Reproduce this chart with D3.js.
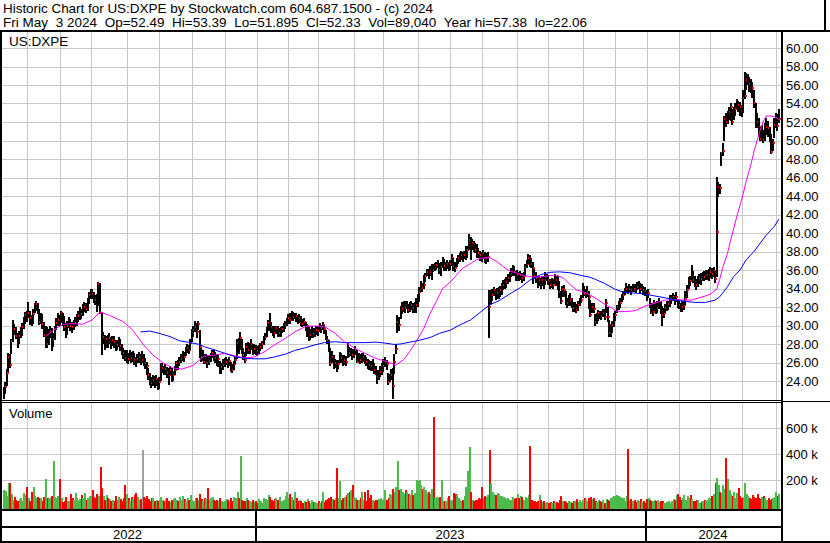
<!DOCTYPE html>
<html><head><meta charset="utf-8">
<script src="https://cdn.jsdelivr.net/npm/d3@7"></script>
<style>body{margin:0;background:#fff}svg{display:block}text{font-family:"Liberation Sans",Arial,sans-serif;fill:#000}</style>
</head><body><svg id="c" width="830" height="543"></svg>
<script>
const header1="Historic Chart for US:DXPE by Stockwatch.com 604.687.1500 - (c) 2024";
const header2="Fri May  3 2024  Op=52.49  Hi=53.39  Lo=51.895  Cl=52.33  Vol=89,040  Year hi=57.38  lo=22.06";
const symbol="US:DXPE";
const closes=[
22.95,23.4,24.9,26.6,25.7,28.3,29.7,29.6,28.9,28.4,
28.9,29.2,29.8,30.4,31.1,31.0,31.4,30.8,30.4,31.2,
32.1,32.3,31.7,30.4,30.9,30.2,29.0,29.3,28.0,28.9,
29.3,27.9,28.5,29.6,30.3,30.6,30.5,31.3,30.6,29.8,
29.3,29.9,30.4,30.0,29.8,30.05,30.3,30.6,31.0,31.5,
31.2,31.8,32.0,31.8,32.4,33.3,33.65,33.4,33.0,32.75,
32.2,34.5,31.3,28.4,28.8,27.9,28.5,28.25,28.6,28.1,
28.4,28.2,27.7,27.9,28.4,27.8,27.35,27.0,26.5,26.7,
26.4,26.8,26.5,26.8,26.3,26.1,26.4,26.6,26.3,26.3,
26.2,25.9,25.6,24.65,24.3,23.75,24.1,23.9,24.2,23.6,
23.9,25.2,25.4,25.0,25.3,24.9,24.65,25.2,24.3,24.65,
25.2,25.9,25.7,26.1,26.4,26.8,26.6,27.3,27.6,27.4,
28.1,29.2,29.5,29.8,29.3,30.2,27.7,26.6,26.8,26.1,
26.4,25.95,26.2,26.6,27.0,26.8,26.5,26.3,26.4,25.2,
25.5,25.7,26.0,26.1,25.9,26.2,25.5,25.2,25.8,26.3,
28.1,27.6,28.6,27.2,26.8,26.3,27.7,27.4,27.6,28.0,
27.2,27.5,27.4,27.2,27.4,27.7,28.0,28.6,28.8,29.5,
30.3,30.05,29.8,29.4,29.15,29.7,29.0,29.2,29.3,29.6,
29.9,30.1,30.4,30.8,30.6,31.1,30.9,31.1,31.0,30.6,
30.8,30.5,30.2,30.4,29.7,29.9,28.6,29.0,29.3,29.1,
29.3,29.5,29.4,29.9,29.7,30.05,29.6,28.8,28.4,27.35,
25.9,26.6,25.7,25.9,25.4,25.8,26.6,26.5,26.2,26.3,
26.1,27.5,27.0,27.2,26.8,27.0,27.35,26.1,26.6,26.3,
26.5,26.6,26.3,26.1,25.95,25.7,25.6,25.8,25.2,25.0,
24.45,24.6,25.0,25.3,25.6,26.1,25.8,23.9,24.4,24.7,
23.5,26.1,27.5,30.4,30.05,31.3,31.8,32.0,31.9,32.2,
31.7,32.0,32.2,31.9,32.0,32.2,32.6,33.65,34.2,34.1,
34.4,35.3,35.8,35.5,35.8,36.4,36.0,36.35,36.5,36.7,
36.0,36.3,37.1,36.4,36.5,36.6,36.4,36.6,37.25,36.4,
36.2,36.9,37.25,37.4,37.6,37.25,37.6,38.0,38.2,39.2,
38.3,38.9,38.7,38.2,38.1,37.8,37.6,37.4,37.8,37.25,
37.3,37.4,32.0,33.1,33.3,33.8,33.4,33.5,33.6,33.8,
34.0,34.4,34.55,34.7,35.1,35.3,35.6,36.0,35.8,35.3,
35.45,35.2,35.45,35.1,35.3,36.35,36.7,37.25,36.9,36.7,
36.2,35.3,35.1,34.55,34.9,34.4,34.9,34.6,34.9,35.3,
34.9,34.4,34.6,34.4,35.1,34.9,34.55,33.65,32.6,33.9,
33.8,32.6,32.4,32.7,32.8,32.4,31.85,32.0,31.7,32.2,
32.6,32.8,34.2,33.4,33.5,33.65,33.1,31.1,32.0,31.8,
30.4,30.8,31.3,31.1,31.0,31.3,30.95,32.4,30.95,29.15,
29.5,30.05,30.8,31.1,32.0,32.2,32.4,33.1,33.3,33.8,
34.0,33.8,34.0,33.8,34.1,34.0,33.9,34.2,34.4,34.0,
34.2,33.8,33.7,33.3,33.5,32.2,31.3,31.5,32.4,31.6,
31.9,32.5,31.6,31.1,31.3,31.85,32.2,32.3,32.75,32.9,
33.1,32.75,33.1,32.4,32.2,31.85,32.0,32.2,32.9,33.8,
34.9,34.8,35.8,34.9,34.7,34.4,34.7,35.1,35.0,35.3,
35.2,35.4,35.45,35.5,35.8,35.6,35.9,35.0,40.1,45.0,
44.9,48.6,48.9,52.3,52.0,52.6,53.1,53.65,52.0,53.1,
53.4,54.0,53.8,53.65,53.1,54.55,54.8,56.5,56.7,56.1,
55.9,55.7,54.0,52.6,52.0,51.5,50.2,50.8,50.05,50.95,
51.5,51.3,50.05,48.8,49.7,51.7,52.2,51.6,52.33];
const highs=[
23.3,23.9,25.3,27.0,26.9,28.5,30.6,30.2,29.8,29.2,
29.4,29.8,30.3,30.9,31.5,31.6,32.5,31.6,31.1,31.8,
32.4,32.6,32.4,31.8,31.4,31.2,30.4,29.9,29.8,29.6,
29.9,29.7,29.2,30.0,30.8,31.4,31.1,31.6,31.4,31.0,
30.3,30.5,30.9,30.7,30.4,30.6,30.9,31.2,31.6,32.0,
31.8,32.3,32.5,32.4,33.0,33.6,33.9,33.9,33.6,33.3,
33.4,34.7,34.6,31.3,29.3,29.0,28.9,29.0,29.2,28.8,
28.9,28.9,28.4,28.4,28.8,28.5,28.0,27.6,27.4,27.3,
27.0,27.3,27.1,27.2,27.0,26.6,26.9,27.1,26.9,27.2,
26.9,26.5,26.1,25.4,24.9,24.4,24.6,24.5,24.6,24.3,
24.4,25.9,25.9,25.6,25.8,25.5,25.4,25.6,25.4,25.1,
25.6,26.2,26.3,26.6,26.9,27.2,27.1,27.7,28.0,27.9,
28.5,29.6,29.9,30.5,30.3,30.5,29.5,27.6,27.3,26.9,
26.9,26.8,26.8,27.0,27.4,27.3,27.1,26.9,26.8,26.2,
26.0,26.4,26.5,26.6,26.4,26.6,26.1,25.8,26.2,26.6,
28.5,28.7,29.3,28.5,27.6,27.1,28.1,28.2,28.1,28.5,
28.0,28.0,27.9,27.8,27.9,28.1,28.3,28.9,29.2,29.8,
30.6,31.4,30.4,30.0,29.9,30.0,29.9,29.7,29.8,30.0,
30.3,30.5,30.8,31.2,31.3,31.6,31.5,31.4,31.4,31.1,
31.2,31.0,30.7,30.8,30.4,30.2,29.9,29.6,29.9,29.7,
29.7,29.9,29.9,30.3,30.1,30.4,30.1,29.5,28.9,28.4,
27.6,27.2,26.8,26.4,26.3,26.3,27.1,27.0,26.8,26.8,
26.7,28.1,27.7,27.6,27.5,27.5,27.8,27.4,27.0,26.9,
27.0,27.0,26.8,26.6,26.4,26.3,26.2,26.4,25.9,25.6,
25.2,25.2,25.6,26.0,26.4,26.6,26.3,24.9,24.8,25.3,
25.4,26.9,28.0,31.1,30.9,32.1,32.5,32.6,32.6,32.7,
32.3,32.5,32.6,32.4,32.5,33.0,33.4,34.2,34.8,34.6,
35.5,35.7,36.1,36.1,36.4,36.6,36.6,36.8,36.9,37.1,
36.8,36.9,37.4,37.2,36.9,37.1,36.9,37.1,37.7,37.3,
36.9,37.3,37.6,37.8,38.1,37.9,38.1,38.6,38.6,39.9,
39.6,39.3,39.1,38.9,38.8,38.4,38.1,38.0,38.2,37.9,
37.8,37.9,33.8,33.8,33.9,34.2,34.0,34.1,34.2,34.3,
34.6,34.9,35.0,35.2,35.6,35.8,36.2,36.5,36.4,35.9,
36.0,35.8,35.9,35.7,35.8,36.7,37.1,37.7,37.6,37.3,
36.9,36.1,35.8,35.3,35.4,35.1,35.4,35.3,35.8,35.6,
35.5,35.0,35.1,35.0,35.6,35.4,35.4,34.8,33.7,34.3,
34.4,33.7,33.0,33.3,33.5,33.0,32.5,32.5,32.3,32.7,
33.0,33.3,34.6,34.3,34.0,34.3,33.7,32.8,32.4,32.4,
31.2,31.3,31.7,31.6,31.6,31.8,31.8,32.9,32.0,30.6,
30.2,30.5,31.4,31.6,32.2,32.7,33.0,33.4,33.7,34.1,
34.6,34.3,34.5,34.3,34.5,34.5,34.5,34.7,34.8,34.6,
34.5,34.3,34.2,33.8,33.9,33.0,32.4,32.4,32.8,32.4,
32.6,33.0,32.6,32.1,31.9,32.3,32.6,32.7,33.3,33.3,
33.5,33.3,33.6,32.9,32.7,32.4,32.6,32.7,33.7,34.4,
35.2,35.4,36.5,35.9,35.3,35.0,35.3,35.6,35.7,35.8,
35.9,36.0,36.0,36.1,36.3,36.2,36.3,35.9,46.1,45.5,
45.3,48.8,49.7,52.6,53.0,53.2,53.6,54.1,53.4,53.6,
54.0,54.5,54.3,54.2,53.8,55.5,57.38,57.3,57.2,56.9,
56.6,56.3,55.5,54.1,53.0,52.4,51.5,51.7,51.1,51.9,
52.4,52.1,51.5,50.7,50.2,52.4,53.0,52.9,53.39];
const lows=[
22.1,22.6,23.5,25.0,25.4,26.9,28.2,29.0,28.5,27.6,
28.0,28.6,28.9,29.6,30.2,30.4,30.8,30.1,29.9,30.2,
31.3,31.6,31.2,30.1,30.2,29.6,28.8,27.6,27.6,27.9,
28.6,27.2,27.7,28.4,29.5,30.0,29.9,30.3,29.9,29.4,
28.6,29.0,29.7,29.4,29.2,29.5,29.8,30.0,30.4,30.6,
30.7,31.0,31.5,31.3,31.6,32.3,32.9,32.9,32.4,32.2,
31.5,32.1,31.2,26.8,28.0,27.4,27.6,27.6,28.0,27.5,
27.8,27.6,27.2,27.3,27.7,27.2,26.8,26.4,26.2,26.0,
25.8,26.2,25.9,26.1,25.7,25.5,25.9,25.9,25.7,26.0,
25.6,25.3,24.6,24.1,23.6,23.2,23.5,23.2,23.5,23.0,
23.1,24.0,24.9,24.6,24.7,24.3,23.6,24.6,23.9,24.0,
24.6,25.2,25.2,25.6,25.9,26.2,26.1,26.7,27.0,26.9,
27.3,28.2,28.8,29.3,28.6,29.5,26.5,26.1,26.2,25.8,
25.8,25.4,25.7,26.1,26.5,26.2,25.9,25.6,25.5,24.8,
24.8,25.2,25.5,25.7,25.4,25.6,25.0,24.9,25.2,25.8,
26.4,26.9,27.4,26.9,26.3,25.9,26.7,26.9,26.9,27.4,
26.8,26.9,26.8,26.7,26.9,27.2,27.5,27.9,28.4,28.8,
29.4,29.4,29.2,28.9,28.7,29.1,28.8,28.8,28.8,29.2,
29.3,29.6,29.9,30.2,30.2,30.6,30.5,30.7,30.4,30.2,
30.3,30.0,29.8,29.9,29.4,28.8,28.3,28.4,28.6,28.6,
28.8,29.0,28.9,29.3,29.2,29.5,29.1,28.4,28.0,27.1,
25.6,25.9,25.3,25.4,25.0,25.3,26.0,26.0,25.6,25.7,
25.6,26.5,26.6,26.7,26.3,26.5,26.8,25.9,26.1,25.8,
26.0,26.1,25.8,25.6,25.3,25.2,25.1,25.1,24.8,24.6,
23.7,24.1,24.4,24.7,25.0,25.5,25.2,23.6,23.9,24.1,
22.06,24.8,26.9,29.2,29.4,30.7,31.2,31.5,31.4,31.8,
31.3,31.5,31.7,31.4,31.3,31.3,32.0,32.5,33.6,33.6,
33.9,34.7,35.3,35.0,35.3,34.9,35.8,35.9,36.0,36.2,
35.6,35.4,36.2,35.9,35.9,36.1,35.9,36.0,36.4,35.9,
35.8,36.3,36.7,36.9,37.1,36.9,37.2,37.1,37.3,38.2,
37.1,38.2,38.0,37.8,37.3,37.3,37.0,36.9,37.2,36.8,
36.6,36.9,28.6,32.3,32.6,33.2,32.8,32.9,32.9,33.1,
33.3,33.8,34.0,34.1,34.5,34.7,35.2,35.3,35.3,34.8,
34.8,34.8,34.9,34.6,34.8,35.4,36.2,36.6,36.3,36.2,
34.5,35.0,34.6,34.1,34.3,34.0,34.3,34.0,34.4,34.8,
34.4,33.9,34.1,33.9,34.5,34.3,33.8,33.0,32.3,33.1,
33.1,32.2,31.9,32.1,32.1,31.9,31.5,31.5,31.3,31.6,
32.1,32.4,33.0,33.2,33.0,33.1,31.8,30.9,31.3,31.3,
30.0,30.2,30.5,30.7,30.6,30.9,30.6,31.3,30.4,28.8,
28.8,29.2,29.8,30.5,31.3,31.7,31.9,32.5,32.8,33.3,
33.5,33.4,33.6,33.3,33.6,33.6,33.5,33.8,33.9,33.5,
33.7,33.3,33.2,32.6,33.0,31.9,31.2,31.0,31.6,31.2,
31.3,31.8,31.2,30.0,30.8,31.3,31.6,31.7,32.0,32.3,
32.6,32.2,32.5,31.9,31.8,31.5,31.5,31.7,32.2,33.0,
33.9,34.3,34.9,34.6,34.2,33.8,34.2,34.5,34.4,34.8,
34.8,34.9,34.9,34.8,35.1,35.0,35.2,34.6,35.2,43.9,
44.2,47.2,48.3,50.0,51.5,51.8,52.2,52.1,51.7,52.2,
52.6,53.4,53.1,52.7,52.5,53.0,54.5,55.5,56.0,55.2,
55.1,54.6,53.5,51.4,51.3,50.4,49.9,50.0,49.7,49.9,
50.6,50.4,49.8,48.5,48.9,50.3,51.3,51.0,51.895];
const volumes=[
124,116,80,175,180,90,50,70,45,40,
55,60,40,100,85,150,60,40,110,150,
75,60,70,65,60,40,70,205,65,55,
65,80,345,70,60,80,210,60,30,35,
70,40,35,90,60,45,100,60,40,55,
85,60,100,45,65,80,75,120,70,60,
90,80,300,140,75,50,85,60,55,40,
50,40,75,45,70,55,40,65,160,90,
60,40,70,55,85,100,70,45,55,435,
70,60,75,55,40,65,60,35,45,40,
50,70,45,35,55,60,40,30,45,55,
65,50,40,70,45,75,55,40,60,45,
85,50,40,65,60,45,95,55,40,60,
55,140,45,60,70,50,40,45,35,60,
40,30,35,55,45,35,60,40,70,60,
110,65,385,50,40,35,60,45,40,30,
45,30,40,25,55,35,25,60,55,45,
85,70,50,40,55,60,45,70,40,35,
50,80,110,60,95,70,45,110,60,40,
45,35,25,40,30,55,35,25,45,30,
30,20,35,25,40,110,30,45,55,60,
70,55,45,60,295,60,195,50,60,70,
85,100,110,120,160,70,60,50,45,60,
110,50,110,40,120,60,85,45,40,50,
45,55,65,45,55,120,45,60,90,85,
130,110,150,345,125,130,110,95,125,110,
90,85,120,85,100,200,190,200,160,130,
150,125,100,110,90,130,685,60,70,60,
70,200,40,35,40,60,75,40,45,100,
90,85,60,45,40,45,80,150,270,455,
110,45,40,50,45,60,55,150,60,75,
70,85,435,175,110,95,85,100,90,80,
75,70,60,55,60,50,45,70,55,60,
95,60,75,70,50,70,60,85,465,50,
40,35,30,40,85,45,30,35,25,30,
20,30,25,35,20,30,25,45,75,35,
40,30,20,35,30,25,40,35,55,30,
45,30,50,60,55,40,60,70,55,65,
40,30,45,35,30,45,25,55,50,40,
60,70,75,80,85,75,70,60,65,40,
75,440,45,55,40,45,30,50,35,55,
30,40,25,55,60,45,35,40,50,35,
45,30,40,35,25,20,30,35,25,40,
55,45,85,90,70,45,60,85,50,75,
60,85,55,40,35,50,45,25,30,35,
50,40,45,60,60,75,95,180,220,165,
110,100,160,130,375,205,120,90,75,110,
65,100,140,80,60,70,180,95,75,60,
55,85,70,60,90,60,55,70,80,60,
50,60,45,55,65,70,110,80,89];
const pinkMA=[[27,28.8],[32,29.5],[38,30.1],[44,30.2],[51,30.15],[57,30.6],[62,31.5],[68,31.1],[77,30.4],[83,29.5],[90,27.9],[96,26.8],[103,25.9],[109,25.4],[115,25.3],[122,25.7],[126,26.3],[129,26.7],[136,26.8],[142,27.0],[149,26.7],[155,26.5],[161,26.6],[168,27.2],[174,27.9],[181,28.6],[187,29.3],[194,29.9],[200,29.95],[206,29.9],[213,29.15],[219,28.25],[226,27.5],[232,27.0],[239,26.45],[245,26.15],[248,26.0],[252,25.7],[257,26.3],[261,27.2],[265,28.25],[270,29.7],[274,31.3],[278,32.6],[282,34.0],[287,34.7],[291,35.45],[295,36.2],[300,36.7],[304,37.15],[308,37.3],[312,37.35],[317,36.9],[321,36.35],[325,35.9],[330,35.65],[334,35.4],[338,35.3],[342,35.2],[347,35.3],[351,35.4],[355,35.45],[360,35.1],[364,34.4],[368,33.85],[372,33.65],[377,33.3],[382,32.75],[386,32.3],[391,31.85],[394,31.5],[399,31.5],[406,31.6],[412,32.1],[418,32.4],[425,32.75],[431,32.8],[438,32.75],[442,32.75],[446,32.95],[451,33.2],[454,33.4],[458,33.9],[460,35.0],[462,36.3],[465,37.8],[467,39.2],[469,40.5],[471,41.8],[473,43.0],[475,44.2],[477,45.6],[480,47.4],[482,48.8],[484,50.0],[486,51.1],[488,52.1],[490,52.65],[492,52.65],[495,52.6],[497,52.4],[498,52.2]];
const blueMA=[[88,29.3],[94,29.4],[100,29.15],[107,28.8],[113,28.35],[120,28.15],[126,27.95],[129,27.7],[136,27.35],[142,27.0],[149,26.6],[155,26.45],[161,26.4],[168,26.4],[174,26.6],[181,26.9],[187,27.3],[194,27.6],[200,27.9],[206,28.15],[213,28.25],[219,28.15],[226,28.15],[232,28.15],[239,28.2],[245,28.1],[251,27.95],[255,28.0],[261,28.2],[267,28.4],[274,28.7],[280,29.15],[287,29.5],[293,30.05],[300,30.6],[306,31.4],[312,32.2],[319,32.75],[325,33.4],[332,34.1],[338,34.9],[345,35.5],[351,35.75],[357,35.8],[364,35.7],[370,35.45],[377,35.2],[380,35.0],[386,34.55],[393,33.9],[399,33.55],[406,33.5],[412,33.4],[418,33.2],[425,33.0],[431,32.75],[438,32.6],[444,32.5],[451,32.5],[457,32.75],[460,33.1],[465,34.2],[469,35.3],[473,36.0],[477,37.1],[482,38.0],[486,38.9],[490,39.8],[495,40.7],[498,41.5]];
// trading days per month, May 2022 .. May 2024
const monthDays=[15,21,20,23,21,21,21,21,20,19,23,19,22,21,20,23,20,22,21,20,21,20,20,22,3];
const yearLabels=["2022","2023","2024"];
const yearFirstMonth=[0,8,20];
const priceTicks=[24,26,28,30,32,34,36,38,40,42,44,46,48,50,52,54,56,58,60];
const priceTickLabels=["24.00","26.00","28.00","30.00","32.00","34.00","36.00","38.00","40.00","42.00","44.00","46.00","48.00","50.00","52.00","54.00","56.00","58.00","60.00"];
const volTicks=[200,400,600];
const volTickLabels=["200 k","400 k","600 k"];

const W=830,H=543;
const svg=d3.select("#c");
svg.append("rect").attr("width",W).attr("height",H).attr("fill","#fff");

const n=closes.length;
const xs=d3.scaleLinear().domain([0,n-1]).range([3.5,778.9]);
const yp=d3.scaleLinear().domain([24,60]).range([381,48]);
const yv=d3.scaleLinear().domain([0,600]).range([506,428.4]);
const PL=2,PR=781,PT=32,PB=400,VT=402,VB=509;

const starts=[];let acc=0;monthDays.forEach(d=>{starts.push(acc);acc+=d;});
const gridMonths=starts.slice(1);

const grid=svg.append("g").attr("stroke","#c8c8c8").attr("stroke-width",1).attr("shape-rendering","crispEdges");
priceTicks.forEach(t=>{const y=Math.round(yp(t))+0.5;grid.append("line").attr("x1",PL).attr("x2",PR).attr("y1",y).attr("y2",y);});
volTicks.forEach(t=>{const y=Math.round(yv(t))+0.5;grid.append("line").attr("x1",PL).attr("x2",PR).attr("y1",y).attr("y2",y);});
gridMonths.forEach(m=>{const x=Math.round(xs(m))+0.5;
  grid.append("line").attr("x1",x).attr("x2",x).attr("y1",PT).attr("y2",PB);
  grid.append("line").attr("x1",x).attr("x2",x).attr("y1",VT).attr("y2",VB);});

const vg=svg.append("g").attr("shape-rendering","crispEdges");
volumes.forEach((v,i)=>{
  let col;
  if(i===0||closes[i]>closes[i-1])col="#4cba4c";else if(closes[i]<closes[i-1])col="#ff0000";else col="#a0a0a0";
  const y=Math.round(yv(v));
  vg.append("rect").attr("x",Math.round(xs(i)-0.5)).attr("y",y).attr("width",2).attr("height",VB-y).attr("fill",col);
});

// price bars: black high-low line, red close mark, drawn bar by bar
const pg=svg.append("g").attr("shape-rendering","crispEdges");
closes.forEach((c,i)=>{
  const x=Math.round(xs(i));const yh=Math.round(yp(highs[i]));const yl=Math.round(yp(lows[i]));
  pg.append("rect").attr("x",x-1).attr("y",yh).attr("width",2).attr("height",Math.max(1,yl-yh)).attr("fill","#000");
  pg.append("rect").attr("x",x).attr("y",Math.round(yp(c))-1).attr("width",2).attr("height",2).attr("fill","#ff0000");
});

const line=d3.line().x(d=>xs(d[0])).y(d=>yp(d[1]));
svg.append("path").datum(pinkMA).attr("d",line).attr("fill","none").attr("stroke","#ff00ff").attr("stroke-width",1);
svg.append("path").datum(blueMA).attr("d",line).attr("fill","none").attr("stroke","#0000ff").attr("stroke-width",1);

const fr=svg.append("g").attr("fill","#000").attr("shape-rendering","crispEdges");
fr.append("rect").attr("x",0).attr("y",30).attr("width",W).attr("height",2);
fr.append("rect").attr("x",824).attr("y",0).attr("width",2).attr("height",31);
fr.append("rect").attr("x",0).attr("y",32).attr("width",2).attr("height",H-32);
fr.append("rect").attr("x",781).attr("y",32).attr("width",2).attr("height",H-32);
fr.append("rect").attr("x",0).attr("y",400).attr("width",782).attr("height",1);
fr.append("rect").attr("x",0).attr("y",402).attr("width",782).attr("height",1);
fr.append("rect").attr("x",782).attr("y",401).attr("width",48).attr("height",1);
fr.append("rect").attr("x",0).attr("y",509).attr("width",782).attr("height",2);
fr.append("rect").attr("x",0).attr("y",526).attr("width",782).attr("height",2);
fr.append("rect").attr("x",0).attr("y",541).attr("width",W).attr("height",2);
const dividers=yearFirstMonth.slice(1).map(m=>Math.round(xs(starts[m])-2));
dividers.forEach(x=>fr.append("rect").attr("x",x).attr("y",510).attr("width",2).attr("height",32));

svg.append("text").attr("x",3).attr("y",13).style("font-size","13.5px").style("white-space","pre")
  .attr("textLength",430).attr("lengthAdjust","spacing").text(header1);
svg.append("text").attr("x",3).attr("y",27).style("font-size","13.5px").style("white-space","pre")
  .attr("textLength",584).attr("lengthAdjust","spacing").text(header2);
svg.append("text").attr("x",9).attr("y",46).style("font-size","13.5px").text(symbol);
svg.append("text").attr("x",9).attr("y",418).style("font-size","13px").text("Volume");
priceTicks.forEach((t,k)=>svg.append("text").attr("x",786).attr("y",yp(t)).attr("dy","0.36em").style("font-size","13px").text(priceTickLabels[k]));
volTicks.forEach((t,k)=>svg.append("text").attr("x",786).attr("y",yv(t)).attr("dy","0.36em").style("font-size","13px").text(volTickLabels[k]));
const bounds=[0].concat(dividers).concat([781]);
yearLabels.forEach((yl,k)=>svg.append("text").attr("x",(bounds[k]+bounds[k+1])/2).attr("y",539).attr("text-anchor","middle").style("font-size","13px").text(yl));
</script></body></html>
